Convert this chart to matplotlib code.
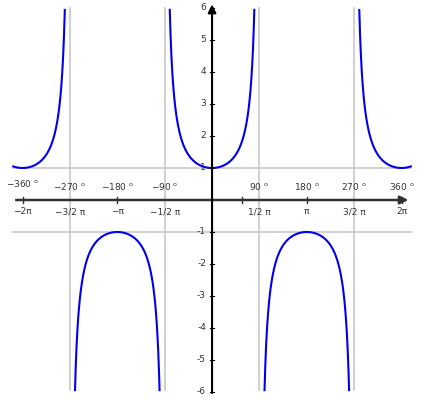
import numpy as np
import matplotlib.pyplot as plt

# sec(x) graph, radians on x, degrees shown as extra labels
x_min, x_max = -6.59, 6.59
rad_ticks = [-2*np.pi, -1.5*np.pi, -np.pi, -0.5*np.pi, 0.5*np.pi, np.pi, 1.5*np.pi, 2*np.pi]
rad_labels = ['\u22122\u03c0', '\u22123/2 \u03c0', '\u2212\u03c0', '\u22121/2 \u03c0',
              '1/2 \u03c0', '\u03c0', '3/2 \u03c0', '2\u03c0']
deg_labels = ['\u2212360', '\u2212270', '\u2212180', '\u221290', '90', '180', '270', '360']
xaxis_ticks = [-2*np.pi, -np.pi, 1.0, np.pi, 2*np.pi]
asymptotes = [-1.5*np.pi, -0.5*np.pi, 0.5*np.pi, 1.5*np.pi]
y_ticks = [-6, -5, -4, -3, -2, -1, 1, 2, 3, 4, 5, 6]

fig = plt.figure(figsize=(4.25, 4), dpi=100)
ax = fig.add_axes([0, 0, 1, 1])
ax.set_xlim(-7.03, 7.06)
ax.set_ylim(-6.25, 6.25)
ax.axis('off')

# grid lines: asymptotes and y = +-1
for a in asymptotes:
    ax.plot([a, a], [-5.95, 6], color='#c8c8c8', lw=1.2, zorder=1)
for h in [-1, 1]:
    ax.plot([x_min, x_max], [h, h], color='#c8c8c8', lw=1.2, zorder=1)

# secant curve, one branch between each pair of asymptotes
bounds = [x_min] + asymptotes + [x_max]
for lo, hi in zip(bounds[:-1], bounds[1:]):
    xs = np.linspace(lo, hi, 800)
    ys = 1/np.cos(xs)
    keep = np.abs(ys) <= 6
    ax.plot(xs[keep], ys[keep], color='#0000ee', lw=1.5, zorder=3)

# axes with arrows
ax.annotate('', xy=(6.6, 0), xytext=(x_min, 0),
            arrowprops=dict(arrowstyle='-|>', color='#333333', lw=1.8, mutation_scale=12), zorder=4)
ax.annotate('', xy=(0, 6.2), xytext=(0, -6.12),
            arrowprops=dict(arrowstyle='-|>', color='black', lw=1.5, mutation_scale=12), zorder=4)

for t in xaxis_ticks:
    ax.plot([t, t], [-0.09, 0.09], color='#333333', lw=1, zorder=4)
for t in y_ticks:
    ax.plot([-0.08, 0.08], [t, t], color='black', lw=0.8, zorder=4)
    ax.text(-0.2, t, str(t), ha='right', va='center', fontsize=6.5, color='#333333')

for t, lab in zip(rad_ticks, rad_labels):
    ax.text(t, -0.37, lab, ha='center', va='center', fontsize=6.5, color='#333333')
for i, (t, lab) in enumerate(zip(rad_ticks, deg_labels)):
    yy = 0.52 if i == 0 else 0.42
    ax.text(t, yy, lab + ' $^{\\mathrm{o}}$', ha='center', va='center', fontsize=6.5, color='#333333')

fig.savefig('out.png', dpi=100)
